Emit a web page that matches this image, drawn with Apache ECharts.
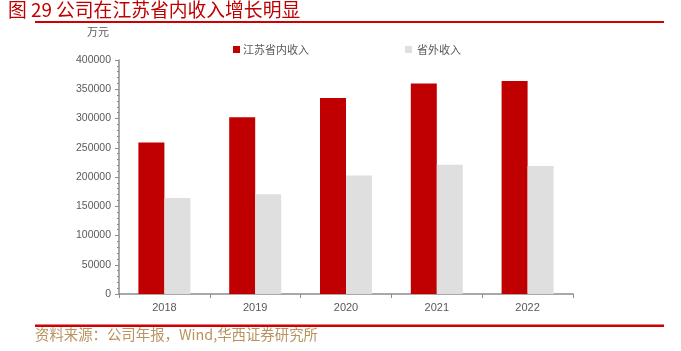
<!DOCTYPE html>
<html><head><meta charset="utf-8">
<script src="https://cdn.jsdelivr.net/npm/echarts@6/dist/echarts.min.js"></script>
<style>html,body{margin:0;padding:0;background:#fff}#c{width:681px;height:351px}</style>
</head><body><div id="c"></div>
<script>
var categories = ['2018','2019','2020','2021','2022'];
var inProvince = [259000, 302000, 335000, 360000, 364000];
var outProvince = [164000, 170500, 202500, 221000, 219000];
var seriesNames = ['江苏省内收入','省外收入'];
var titleText = '图 29 公司在江苏省内收入增长明显';
var sourceText = '资料来源：公司年报，Wind,华西证券研究所';
var unitText = '万元';

var chart = echarts.init(document.getElementById('c'), null, {renderer:'canvas'});
var cjk = '"Noto Sans CJK SC", sans-serif';
var axisColor = '#8c8c8c';
chart.setOption({
  animation:false,
  backgroundColor:'#fff',
  graphic:[
    {type:'text', left:8, top:0, style:{text:titleText, fill:'#c00000', font:'18.8px ' + cjk}},
    {type:'rect', shape:{x:35, y:21, width:629, height:2}, style:{fill:'#d00000'}},
    {type:'rect', shape:{x:35, y:324.5, width:629, height:2.5}, style:{fill:'#d00000'}},
    {type:'text', left:35, top:327, style:{text:sourceText, fill:'#b8935f', font:'14.4px ' + cjk}},
    {type:'text', left:87, top:26, style:{text:unitText, fill:'#595959', font:'11px ' + cjk}}
  ],
  legend:[
    {data:[seriesNames[0]], left:228, top:39, itemWidth:7, itemHeight:7, itemGap:0, icon:'rect',
     textStyle:{color:'#595959', fontSize:11, fontFamily:cjk, padding:[0,0,0,-2]}},
    {data:[seriesNames[1]], left:400, top:39, itemWidth:7, itemHeight:7, itemGap:0, icon:'rect',
     textStyle:{color:'#595959', fontSize:11, fontFamily:cjk}}
  ],
  grid:{left:119, right:108, top:60, bottom:57, containLabel:false},
  xAxis:{
    type:'category', data:categories, boundaryGap:true,
    axisLine:{lineStyle:{color:axisColor, width:1.5}},
    axisTick:{show:true, length:4, lineStyle:{color:axisColor}},
    axisLabel:{color:'#595959', fontSize:11, fontFamily:'Liberation Sans, Arial, sans-serif', margin:8}
  },
  yAxis:{
    type:'value', min:0, max:400000, interval:50000,
    axisLine:{show:true, lineStyle:{color:axisColor, width:1.5}},
    axisTick:{show:true, inside:false, length:4, lineStyle:{color:axisColor}},
    minorTick:{show:true, splitNumber:5, length:2, lineStyle:{color:axisColor}},
    splitLine:{show:false},
    axisLabel:{color:'#595959', fontSize:10.5, fontFamily:'Liberation Sans, Arial, sans-serif', margin:8,
      formatter:function(v){return String(v);}}
  },
  series:[
    {name:seriesNames[0], type:'bar', data:inProvince, barWidth:26, barGap:'0%',
     itemStyle:{color:'#c00000'}},
    {name:seriesNames[1], type:'bar', data:outProvince, barWidth:26, barGap:'0%',
     itemStyle:{color:'#dfdfdf'}}
  ]
});
</script></body></html>
